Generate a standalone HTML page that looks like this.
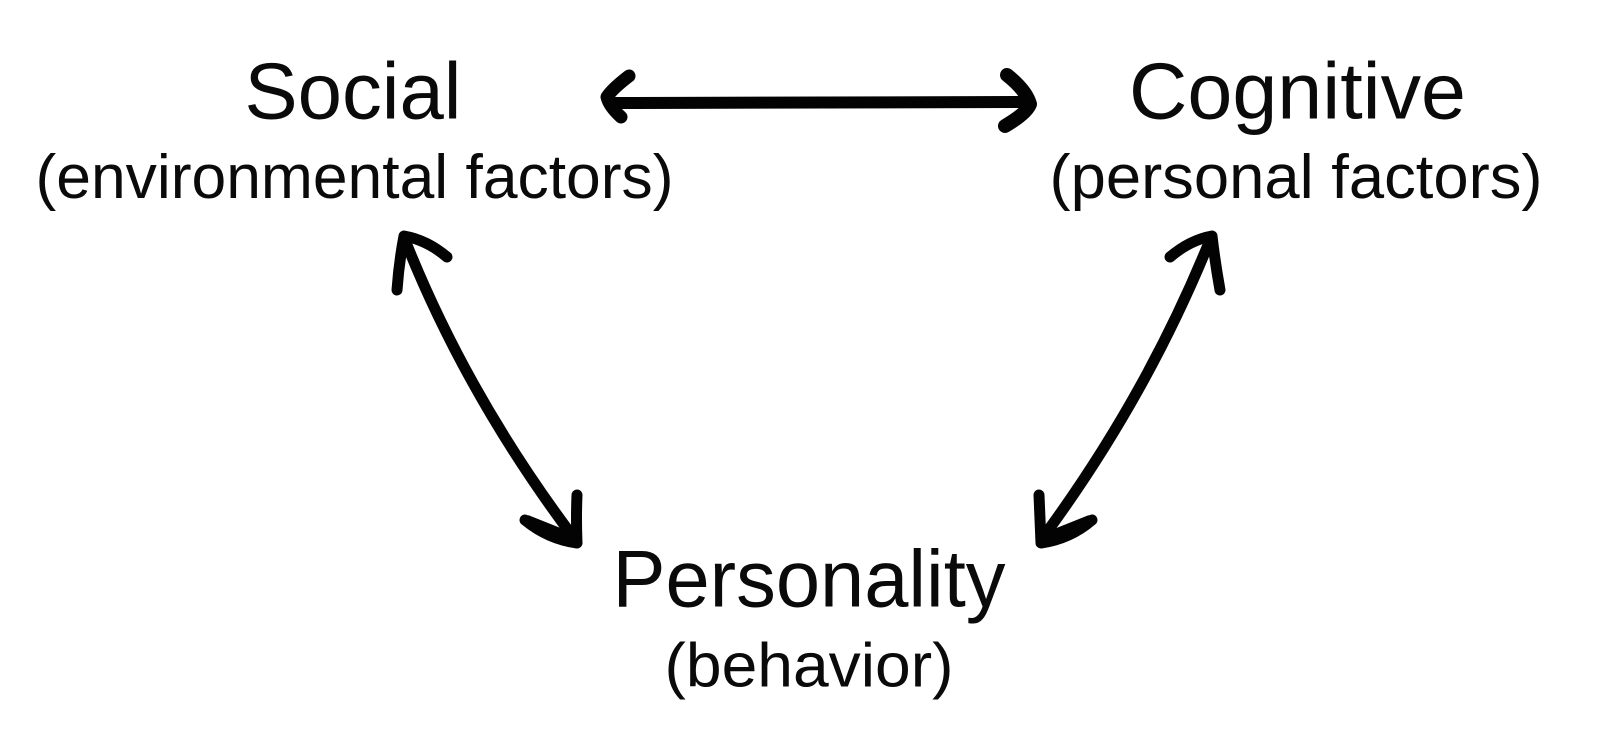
<!DOCTYPE html>
<html>
<head>
<meta charset="utf-8">
<style>
html,body{margin:0;padding:0;background:#fff;width:1600px;height:744px;overflow:hidden}
svg{display:block}
text{font-family:"Liberation Sans",sans-serif;fill:#0a0a0a;text-anchor:middle}
.a{fill:none;stroke:#030303;stroke-width:11;stroke-linecap:round;stroke-linejoin:round}
.w{fill:#030303;stroke:none}
</style>
</head>
<body>
<svg width="1600" height="744" viewBox="0 0 1600 744" xmlns="http://www.w3.org/2000/svg">
<text x="353" y="118.500" font-size="80" textLength="217" lengthAdjust="spacingAndGlyphs">Social</text>
<text x="354.500" y="198" font-size="62" textLength="638" lengthAdjust="spacingAndGlyphs">(environmental factors)</text>
<text x="1297.500" y="118.500" font-size="80" textLength="337" lengthAdjust="spacingAndGlyphs">Cognitive</text>
<text x="1296" y="198" font-size="62" textLength="493" lengthAdjust="spacingAndGlyphs">(personal factors)</text>
<text x="809" y="606.500" font-size="81" textLength="393" lengthAdjust="spacingAndGlyphs">Personality</text>
<text x="809" y="686.500" font-size="62" textLength="289" lengthAdjust="spacingAndGlyphs">(behavior)</text>
<path class="a" style="stroke-width:12" d="M610 103 L1028 102"/>
<path class="a" style="stroke-width:13" d="M629 76 Q612 89 607 97 Q609 106 621 117"/>
<path class="a" style="stroke-width:14" d="M1007 75 Q1026 90 1030 104 Q1027 113 1005 126"/>
<path class="a" d="M405 240 Q466.500 395 574 538"/>
<path class="a" d="M397 290 Q399 262 404 236 Q427 240 447 257"/>
<path class="a" d="M525 520 Q548 539 577 543 Q576 518 577 495"/>
<path class="w" d="M528 515 L568 531 L576 546 L540 534 Z"/>
<path class="a" d="M1210 240 Q1147 396 1044 536"/>
<path class="a" d="M1170 257 Q1190 240 1212 236 Q1215 262 1220 290"/>
<path class="a" d="M1039 495 Q1040 520 1041 543 Q1070 539 1092 520"/>
<path class="w" d="M1089 515 L1049 531 L1041 546 L1077 534 Z"/>
</svg>
</body>
</html>
